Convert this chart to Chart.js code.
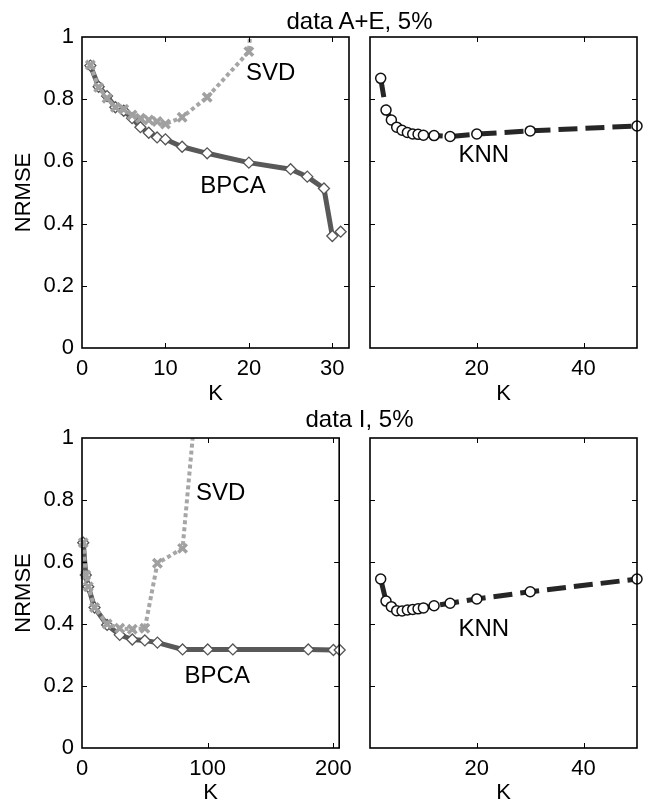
<!DOCTYPE html>
<html>
<head>
<meta charset="utf-8">
<script src="https://cdn.jsdelivr.net/npm/chart.js@4.4.1/dist/chart.umd.min.js"></script>
<style>
  body { margin: 0; background: #fff; }
  #fig { position: relative; width: 648px; height: 804px; font-family: "Liberation Sans", Arial, sans-serif; }
  #fig canvas { position: absolute; }
  .title { position: absolute; font-size: 24px; line-height: 24px; transform: translateX(-50%); white-space: nowrap; color: #000; }
</style>
</head>
<body>
<div id="fig">
  <canvas id="tl" width="360" height="410" style="left:0;top:0"></canvas>
  <canvas id="tr" width="288" height="410" style="left:360px;top:0"></canvas>
  <canvas id="bl" width="360" height="404" style="left:0;top:400px"></canvas>
  <canvas id="br" width="288" height="404" style="left:360px;top:400px"></canvas>
  <div class="title" style="left:359.5px;top:9px">data A+E, 5%</div>
  <div class="title" style="left:359.5px;top:407px">data I, 5%</div>
</div>
<script>
// data A+E
const kBpcaTop = [1, 2, 3, 4, 5, 6, 7, 8, 9, 10, 12, 15, 20, 25, 27, 29, 30, 31];
const bpcaTop = [0.908, 0.840, 0.810, 0.774, 0.763, 0.739, 0.710, 0.692, 0.677, 0.671, 0.647, 0.626, 0.596, 0.575, 0.551, 0.513, 0.360, 0.374];
const kSvdTop = [1, 2, 3, 4, 5, 6, 7, 8, 9, 10, 12, 15, 20, 25];
const svdTop = [0.910, 0.838, 0.803, 0.774, 0.768, 0.749, 0.739, 0.733, 0.728, 0.720, 0.742, 0.806, 0.953, 2.8];
const kKnn = [2, 3, 4, 5, 6, 7, 8, 9, 10, 12, 15, 20, 30, 50];
const knnTop = [0.867, 0.765, 0.733, 0.710, 0.700, 0.693, 0.688, 0.687, 0.684, 0.683, 0.680, 0.688, 0.698, 0.714];

// data I
const kBpcaBottom = [1, 3, 5, 10, 20, 30, 40, 50, 60, 80, 100, 120, 180, 200, 205];
const bpcaBottom = [0.662, 0.558, 0.520, 0.453, 0.397, 0.365, 0.350, 0.347, 0.340, 0.318, 0.318, 0.318, 0.318, 0.316, 0.316];
const kSvdBottom = [1, 3, 5, 10, 20, 30, 40, 50, 60, 80, 100];
const svdBottom = [0.662, 0.558, 0.520, 0.453, 0.400, 0.386, 0.383, 0.386, 0.596, 0.644, 1.53];
const knnBottom = [0.545, 0.474, 0.456, 0.443, 0.442, 0.445, 0.447, 0.449, 0.452, 0.459, 0.467, 0.481, 0.504, 0.545];

// ticks
const yTicks = [0, 0.2, 0.4, 0.6, 0.8, 1];
const xTicksTopLeft = [0, 10, 20, 30];
const xTicksBottomLeft = [0, 100, 200];
const xTicksRight = [20, 40];

const FONT = '"Liberation Sans", Arial, sans-serif';
const pts = (ks, vs) => ks.map((k, i) => ({ x: k, y: vs[i] }));

const bpcaStyle = {
    showLine: true, borderColor: "#595959", borderWidth: 5,
    pointStyle: "rectRot", pointRadius: 5.5, pointBorderWidth: 1.3,
    pointBorderColor: "#555", pointBackgroundColor: "#fff",
    clip: false, order: 1
};
const svdStyle = {
    showLine: true, borderColor: "#a6a6a6", borderWidth: 4, borderDash: [4, 3],
    pointStyle: "crossRot", pointRadius: 6, pointBorderWidth: 3.5,
    pointBorderColor: "#a0a0a0",
    clip: { left: 8, right: 0, top: 0, bottom: 0 }, order: 0
};
const knnStyle = {
    showLine: true, borderColor: "#262626", borderWidth: 5, borderDash: [19, 8],
    pointStyle: "circle", pointRadius: 5, pointBorderWidth: 1.5,
    pointBorderColor: "#111", pointBackgroundColor: "#fff",
    clip: false
};

// box, inward tick marks and curve labels
function makeFrame(notes) {
    return {
        id: "frame",
        afterDatasetsDraw(chart) {
            const { ctx, chartArea: a, scales: { x, y } } = chart;
            ctx.save();
            ctx.strokeStyle = "#000";
            ctx.lineWidth = 1;
            ctx.beginPath();
            x.ticks.forEach(t => {
                if (t.value <= x.min || t.value >= x.max) return;
                const px = Math.round(x.getPixelForValue(t.value)) + 0.5;
                ctx.moveTo(px, a.bottom); ctx.lineTo(px, a.bottom - 5);
                ctx.moveTo(px, a.top); ctx.lineTo(px, a.top + 5);
            });
            y.ticks.forEach(t => {
                if (t.value <= y.min || t.value >= y.max) return;
                const py = Math.round(y.getPixelForValue(t.value)) + 0.5;
                ctx.moveTo(a.left, py); ctx.lineTo(a.left + 5, py);
                ctx.moveTo(a.right, py); ctx.lineTo(a.right - 5, py);
            });
            ctx.stroke();
            ctx.lineWidth = 1.6;
            ctx.strokeRect(a.left, a.top, a.right - a.left, a.bottom - a.top);
            ctx.fillStyle = "#000";
            ctx.font = "24px " + FONT;
            ctx.textAlign = "center";
            ctx.textBaseline = "middle";
            notes.forEach(n => ctx.fillText(n.text, x.getPixelForValue(n.x), y.getPixelForValue(n.y)));
            ctx.restore();
        }
    };
}

function panel(id, cfg) {
    const font = { family: FONT, size: 22 };
    new Chart(document.getElementById(id), {
        type: "scatter",
        data: { datasets: cfg.datasets },
        options: {
            responsive: false,
            animation: false,
            layout: { padding: cfg.padding },
            plugins: { legend: { display: false }, tooltip: { enabled: false } },
            scales: {
                x: {
                    type: "linear", min: 0, max: cfg.xMax,
                    grid: { display: false, drawTicks: false },
                    border: { display: false },
                    ticks: { font, color: "#000", padding: 8, maxRotation: 0, callback: v => String(v) },
                    afterBuildTicks: s => { s.ticks = cfg.xTicks.map(v => ({ value: v })); },
                    afterFit: s => { s.height = cfg.xHeight; },
                    title: { display: true, text: "K", font, color: "#000", padding: { top: 0, bottom: cfg.kPad } }
                },
                y: {
                    type: "linear", min: 0, max: 1,
                    grid: { display: false, drawTicks: false },
                    border: { display: false },
                    ticks: { display: cfg.yLabels, font, color: "#000", padding: 8, callback: v => String(v) },
                    afterBuildTicks: s => { s.ticks = yTicks.map(v => ({ value: v })); },
                    afterFit: s => { s.width = cfg.yWidth; },
                    title: { display: cfg.yLabels, text: "NRMSE", font, color: "#000", padding: { top: 11, bottom: 0 } }
                }
            }
        },
        plugins: [makeFrame(cfg.notes)]
    });
}

panel("tl", {
    datasets: [
        { ...bpcaStyle, data: pts(kBpcaTop, bpcaTop) },
        { ...svdStyle, data: pts(kSvdTop, svdTop) }
    ],
    xMax: 32, xTicks: xTicksTopLeft, xHeight: 62, kPad: 3,
    yLabels: true, yWidth: 82,
    padding: { top: 37, right: 11, left: 0, bottom: 0 },
    notes: [{ text: "SVD", x: 22.6, y: 0.883 }, { text: "BPCA", x: 18.1, y: 0.519 }]
});

panel("tr", {
    datasets: [{ ...knnStyle, data: pts(kKnn, knnTop) }],
    xMax: 50, xTicks: xTicksRight, xHeight: 62, kPad: 3,
    yLabels: false, yWidth: 10,
    padding: { top: 37, right: 11, left: 0, bottom: 0 },
    notes: [{ text: "KNN", x: 21.3, y: 0.62 }]
});

panel("bl", {
    datasets: [
        { ...bpcaStyle, data: pts(kBpcaBottom, bpcaBottom) },
        { ...svdStyle, data: pts(kSvdBottom, svdBottom) }
    ],
    xMax: 204.6, xTicks: xTicksBottomLeft, xHeight: 56, kPad: -2,
    yLabels: true, yWidth: 82,
    padding: { top: 38, right: 11, left: 0, bottom: 0 },
    notes: [{ text: "SVD", x: 110.4, y: 0.82 }, { text: "BPCA", x: 107.6, y: 0.232 }]
});

panel("br", {
    datasets: [{ ...knnStyle, data: pts(kKnn, knnBottom) }],
    xMax: 50, xTicks: xTicksRight, xHeight: 56, kPad: -2,
    yLabels: false, yWidth: 10,
    padding: { top: 38, right: 11, left: 0, bottom: 0 },
    notes: [{ text: "KNN", x: 21.3, y: 0.382 }]
});
</script>
</body>
</html>
